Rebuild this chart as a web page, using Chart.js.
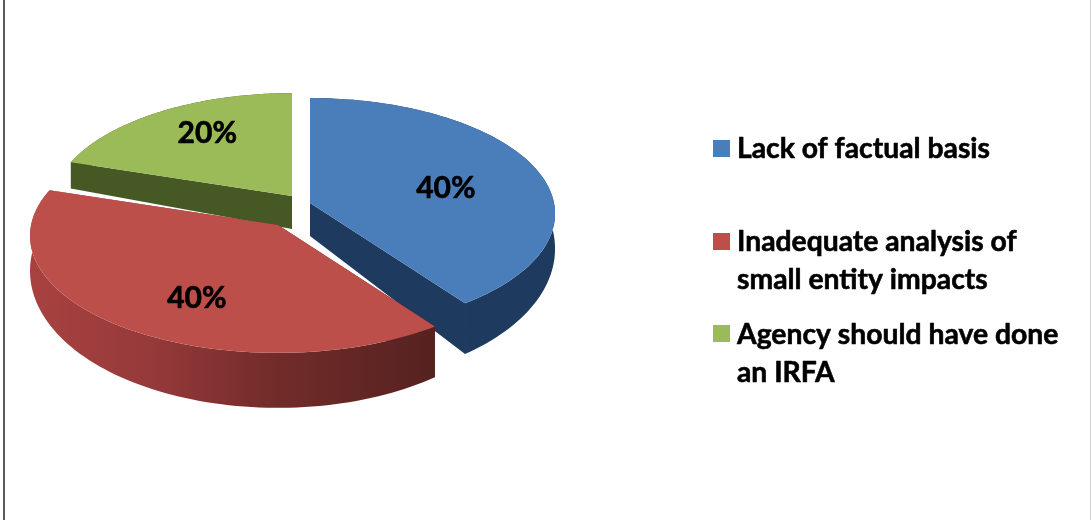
<!DOCTYPE html>
<html>
<head>
<meta charset="utf-8">
<title>Pie chart</title>
<script src="https://cdn.jsdelivr.net/npm/chart.js@4"></script>
<style>
    html, body { margin: 0; padding: 0; background: #fff; }
    .frame { position: relative; width: 1091px; height: 520px; overflow: hidden; }
    .frame::before { content: ''; position: absolute; left: 3px; top: 0; bottom: 0; width: 1.5px; background: #5a5a5a; }
    .frame::after { content: ''; position: absolute; left: 1090px; top: 0; bottom: 0; width: 1px; background: #cfcfcf; }
    canvas { display: block; }
</style>
</head>
<body>
<div class="frame">
    <canvas id="pieChart" width="1091" height="520"></canvas>
</div>
<script>
const categories = [
    ['Lack of factual basis'],
    ['Inadequate analysis of', 'small entity impacts'],
    ['Agency should have done', 'an IRFA']
];
const shares = [40, 40, 20];
const topColors = ['#4a7ebb', '#bd4f4b', '#9bbb59'];

// Tilted disc settings
const TILT = 0.47;
const PERSPECTIVE = 0.0925;
const WALL_BASE = 33;
const WALL_GROWTH = 22;

// Per slice explode shift, radius scale, label nudge and paint order (back to front)
const sliceShift = [{ x: 20, y: -57 }, { x: -12, y: -35 }, { x: 2, y: -64 }];
const sliceScale = [1, 1.012, 0.98];
const labelNudge = [{ x: -1, y: 6 }, { x: 10, y: 14 }, { x: -4, y: -10 }];
const paintOrder = [2, 0, 1];

const LABEL_FONT = '700 30px Lato';
const LEGEND_FONT = '700 28.3px Lato';
const legendBaselines = [158, 250.5, 343.5];
const legendSwatchTops = [140, 233, 325];
const LEGEND_LINE = 38;
const TEXT_WEIGHT_STROKE = 0.6;

function project(arc, i, angle, frac, drop) {
    const u = Math.cos(angle) * frac;
    const v = Math.sin(angle) * frac;
    const w = 1 / (1 - PERSPECTIVE * v);
    const r = arc.outerRadius * sliceScale[i];
    return {
        x: arc.x + sliceShift[i].x + r * u * w,
        y: arc.y + sliceShift[i].y + r * TILT * v * w + drop * (WALL_BASE + WALL_GROWTH * v)
    };
}

function rimPoints(arc, i, drop) {
    const pts = [];
    const steps = 90;
    for (let s = 0; s <= steps; s++) {
        const a = arc.startAngle + (arc.endAngle - arc.startAngle) * s / steps;
        pts.push(project(arc, i, a, 1, drop));
    }
    return pts;
}

function fillPolygon(ctx, pts, fill) {
    ctx.beginPath();
    pts.forEach((p, n) => (n ? ctx.lineTo(p.x, p.y) : ctx.moveTo(p.x, p.y)));
    ctx.closePath();
    ctx.fillStyle = fill;
    ctx.fill();
}

function wallPaint(ctx, i) {
    if (i === 0) {
        return '#1e3a5e';
    }
    if (i === 2) {
        return '#465823';
    }
    const grad = ctx.createLinearGradient(30, 0, 435, 0);
    grad.addColorStop(0, '#a84240');
    grad.addColorStop(0.3, '#96393a');
    grad.addColorStop(0.6, '#722c2a');
    grad.addColorStop(1, '#552220');
    return grad;
}

// Bold text drawn with a hairline stroke so it reads heavier
function heavyText(ctx, text, x, y) {
    ctx.strokeStyle = '#000';
    ctx.lineWidth = TEXT_WEIGHT_STROKE;
    ctx.lineJoin = 'round';
    ctx.strokeText(text, x, y);
    ctx.fillText(text, x, y);
}

const tiltedPie = {
    id: 'tiltedPie',
    beforeDatasetsDraw(chart) {
        const ctx = chart.ctx;
        const arcs = chart.getDatasetMeta(0).data;

        paintOrder.forEach((i) => {
            const arc = arcs[i];
            const paint = wallPaint(ctx, i);

            // walls along both cut edges, then the curved rim
            [arc.startAngle, arc.endAngle].forEach((a) => {
                fillPolygon(ctx, [
                    project(arc, i, a, 0, 0),
                    project(arc, i, a, 1, 0),
                    project(arc, i, a, 1, 1),
                    project(arc, i, a, 0, 1)
                ], paint);
            });
            fillPolygon(ctx, rimPoints(arc, i, 0).concat(rimPoints(arc, i, 1).reverse()), paint);

            // top face
            fillPolygon(ctx, [project(arc, i, 0, 0, 0)].concat(rimPoints(arc, i, 0)), topColors[i]);
        });

        // percentage labels
        ctx.font = LABEL_FONT;
        ctx.fillStyle = '#000';
        ctx.textAlign = 'center';
        ctx.textBaseline = 'middle';
        arcs.forEach((arc, i) => {
            const p = project(arc, i, (arc.startAngle + arc.endAngle) / 2, 0.6, 0);
            heavyText(ctx, shares[i] + '%', p.x + labelNudge[i].x, p.y + labelNudge[i].y);
        });

        return false;
    },
    afterDraw(chart) {
        const ctx = chart.ctx;
        ctx.save();
        ctx.font = LEGEND_FONT;
        ctx.textAlign = 'left';
        ctx.textBaseline = 'alphabetic';
        categories.forEach((lines, i) => {
            ctx.fillStyle = topColors[i];
            ctx.fillRect(713, legendSwatchTops[i], 17, 17);
            ctx.fillStyle = '#000';
            lines.forEach((line, n) => heavyText(ctx, line, 737, legendBaselines[i] + n * LEGEND_LINE));
        });
        ctx.restore();
    }
};

new Chart(document.getElementById('pieChart'), {
    type: 'pie',
    data: {
        labels: categories,
        datasets: [{
            data: shares,
            backgroundColor: topColors,
            borderWidth: 0
        }]
    },
    options: {
        responsive: false,
        animation: false,
        layout: {
            padding: { left: 46, right: 557, top: 16, bottom: 16 }
        },
        plugins: {
            legend: { display: false },
            tooltip: { enabled: false }
        }
    },
    plugins: [tiltedPie]
});
</script>
</body>
</html>
